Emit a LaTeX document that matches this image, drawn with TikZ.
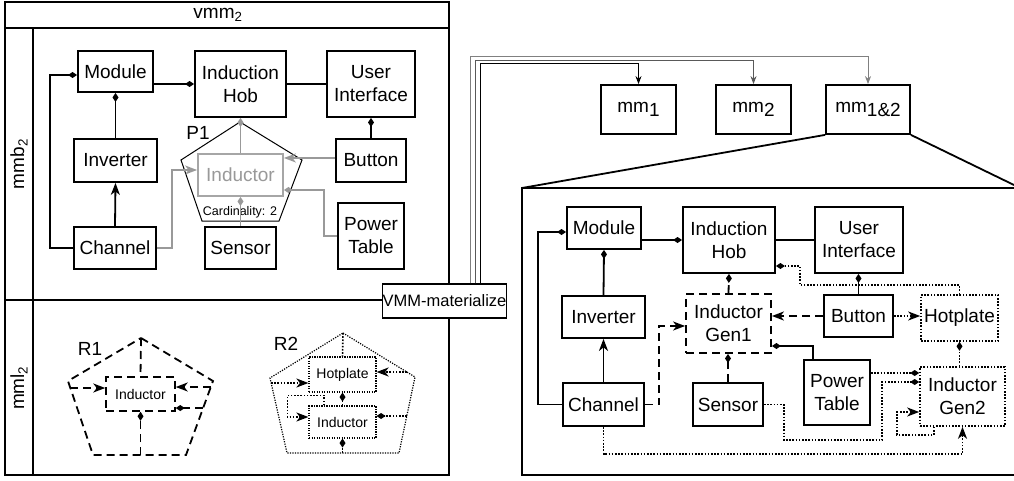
\documentclass[tikz,border=0pt]{standalone}
\usepackage{fontspec}
\setmainfont{Liberation Sans}
\usetikzlibrary{arrows.meta}

\begin{document}
\begin{tikzpicture}[x=1pt, y=-1pt,
    frame/.style={line width=1.8pt},
    box/.style={draw, line width=1.8pt, fill=white, inner sep=0pt, align=center,
      font=\fontsize{19}{23}\selectfont},
    small/.style={draw, line width=1.5pt, fill=white, inner sep=0pt, align=center,
      font=\fontsize{14}{16}\selectfont},
    ghost/.style={box, draw=gray!70, text=gray!80},
    conn/.style={line width=1.8pt},
    gconn/.style={line width=1.8pt, draw=gray!80},
    dashline/.style={dash pattern=on 8pt off 5pt},
    dotline/.style={line width=1.6pt, dash pattern=on 1.6pt off 1.6pt},
    dia/.style={-{Diamond[length=9pt,width=6pt]}},
    arr/.style={-{Stealth[length=12pt,width=9pt,inset=3.5pt]}},
    lab/.style={font=\fontsize{19}{23}\selectfont}]
  \useasboundingbox (0,0) rectangle (1014,481);

  % left panel: vmm2
  \draw [frame] (5,2) rectangle (449,475);
  \draw [frame] (5,28) -- (449,28);
  \draw [frame] (33,28) -- (33,475);
  \draw [frame] (5,300) -- (449,300);
  \node [lab] (tvmm) at (218,15) {vmm\textsubscript{2}};
  \node [lab, rotate=90] (tmmb) at (19,164) {mmb\textsubscript{2}};
  \node [lab, rotate=90] (tmml) at (19,388) {mml\textsubscript{2}};

  % mmb2
  \node [box, minimum width=75, minimum height=41] (lmod) at (115.5,71.5) {Module};
  \node [box, minimum width=91, minimum height=66] (lhob) at (240.5,84) {Induction\\Hob};
  \node [box, minimum width=88, minimum height=66] (lui) at (371,84) {User\\Interface};
  \node [box, minimum width=83, minimum height=43] (linv) at (115.5,160.5) {Inverter};
  \node [box, minimum width=70, minimum height=43] (lbut) at (371,160.5) {Button};
  \node [box, minimum width=82, minimum height=42] (lchan) at (115,248) {Channel};
  \node [box, minimum width=71, minimum height=42] (lsen) at (240.5,248) {Sensor};
  \node [box, minimum width=66, minimum height=66] (lpt) at (371,236) {Power\\Table};
  \node [ghost, minimum width=85, minimum height=42] (lind) at (240.5,175) {Inductor};
  \coordinate (p1t) at (240,122);
  \coordinate (p1r) at (302,160);
  \coordinate (p1br) at (279,221);
  \coordinate (p1bl) at (202,221);
  \coordinate (p1l) at (181,160);
  \draw [line width=1pt] (p1t) -- (p1r) -- (p1br) -- (p1bl) -- (p1l) -- cycle;
  \node [lab] (tp1) at (198,133) {P1};
  \node [font=\fontsize{12.5}{14}\selectfont] (tcard) at (240,212) {Cardinality: 2};

  \draw [conn, dia] (lmod.east |- lhob.west) -- (lhob.west);
  \draw [conn] (lhob.east) -- (lui.west);
  \draw [conn, dia] (lchan.west) -- ++(-23,0) |- ([yshift=-3.5pt]lmod.west);
  \draw [conn, dia] (linv.north) -- (lmod.south);
  \draw [conn, arr] (lchan.north) -- (linv.south);
  \draw [conn, dia] (lbut.north) -- (lbut.north |- lui.south);
  \coordinate (lbutw) at ([yshift=2.5pt]lbut.west);
  \draw [gconn, dia] (lind.north) -- (lhob.south);
  \draw [gconn, dia] (lsen.north) -- (lsen.north |- lind.south);
  \draw [gconn, arr] (lbutw) -- (lind.east |- lbutw);
  \draw [gconn, dia] (lpt.west) -- ++(-13,0) |- ([yshift=-15pt]lind.east);
  \draw [gconn, arr] (lchan.east) -- ++(15,0) |- ([yshift=5pt]lind.west);

  % mml2: R1
  \coordinate (r1t) at (141,338);
  \coordinate (r1r) at (213,381);
  \coordinate (r1br) at (186,455);
  \coordinate (r1bl) at (93,455);
  \coordinate (r1l) at (68,381);
  \draw [conn, dashline] (r1t) -- (r1r) -- (r1br) -- (r1bl) -- (r1l) -- cycle;
  \node [small, dashline, minimum width=69, minimum height=34] (r1ind) at (140.5,394) {Inductor};
  \node [lab] (tr1) at (90,349) {R1};
  \coordinate (r1a) at (70,388);
  \coordinate (r1b) at (211,387);
  \coordinate (r1c) at (203,408);
  \coordinate (r1d) at (140.5,455);
  \draw [conn, dashline] (r1t) -- (r1ind.north);
  \draw [conn, dashline, arr] (r1a) -- (r1ind.west |- r1a);
  \draw [conn, dashline, arr] (r1b) -- (r1ind.east |- r1b);
  \draw [conn, dashline, dia] (r1c) -- (r1ind.east |- r1c);
  \draw [conn, dashline, dia] (r1d) -- (r1ind.south);

  % mml2: R2
  \coordinate (r2t) at (343,333);
  \coordinate (r2r) at (415,377);
  \coordinate (r2br) at (399,453);
  \coordinate (r2bl) at (287,453);
  \coordinate (r2l) at (270,378);
  \draw [dotline, line width=1.2pt, dash pattern=on 1.2pt off 1.3pt] (r2t) -- (r2r) -- (r2br) -- (r2bl) -- (r2l) -- cycle;
  \node [small, dotline, line width=1.2pt, dash pattern=on 1.2pt off 1.3pt, minimum width=67, minimum height=35] (r2hot) at (342.5,374.5) {Hotplate};
  \node [small, dotline, line width=1.2pt, dash pattern=on 1.2pt off 1.3pt, minimum width=67, minimum height=32] (r2ind) at (342.5,422) {Inductor};
  \node [lab] (tr2) at (286,344) {R2};
  \coordinate (r2a) at (271,383);
  \coordinate (r2b) at (407,372);
  \coordinate (r2c) at (407,416);
  \coordinate (r2d) at (342.5,453);
  \draw [dotline] (r2t) -- (r2hot.north);
  \draw [dotline, arr] (r2a) -- (r2hot.west |- r2a);
  \draw [dotline, arr] (r2b) -- (r2hot.east |- r2b);
  \draw [dotline, dia] (r2ind.north) -- (r2hot.south);
  \draw [dotline, arr] ([xshift=-18.5pt]r2ind.north) -- ++(0,-10) -| ([xshift=-21pt,yshift=5pt]r2ind.west) -- ([yshift=5pt]r2ind.west);
  \draw [dotline, dia] (r2c) -- (r2ind.east |- r2c);
  \draw [dotline, dia] (r2d) -- (r2ind.south);

  % materialize
  \node [box, line width=1.3pt, minimum width=123, minimum height=34,
    font=\fontsize{16.5}{20}\selectfont] (vmm) at (444.5,301) {VMM-materialize};
  \node [box, minimum width=75, minimum height=49] (mm1) at (638.5,109.5) {mm\raisebox{-4pt}{1}};
  \node [box, minimum width=75, minimum height=49] (mm2) at (753.5,109.5) {mm\raisebox{-4pt}{2}};
  \node [box, minimum width=84, minimum height=49] (mm12) at (868,109.5) {mm\raisebox{-4pt}{1\&2}};
  \draw [line width=0.9pt, gray, -{Stealth[length=8pt,width=6pt]}] ([xshift=25.5pt]vmm.north) -- ++(0,-227) -| (mm12.north);
  \draw [line width=0.9pt, gray!70!black, -{Stealth[length=8pt,width=6pt]}] ([xshift=30.5pt]vmm.north) -- ++(0,-223) -| (mm2.north);
  \draw [line width=0.9pt, -{Stealth[length=8pt,width=6pt]}] ([xshift=35.5pt]vmm.north) -- ++(0,-220) -| (mm1.north);

  % detail of mm1&2
  \coordinate (dtl) at (522,188);
  \coordinate (dtr) at (1014,188);
  \coordinate (dbl) at (522,475);
  \coordinate (dbr) at (1014,475);
  \coordinate (dcut) at (1014,185);
  \draw [frame] (dtr) -- (dtl) -- (dbl) -- (dbr);
  \draw [frame] (mm12.south west) -- (dtl);
  \draw [frame] (mm12.south east) -- (dcut);

  \node [box, minimum width=74, minimum height=42] (rmod) at (604,228) {Module};
  \node [box, minimum width=92, minimum height=66] (rhob) at (729,240) {Induction\\Hob};
  \node [box, minimum width=88, minimum height=66] (rui) at (859,240) {User\\Interface};
  \node [box, minimum width=83, minimum height=42] (rinv) at (603.5,317) {Inverter};
  \node [box, dashline, minimum width=85, minimum height=59] (rgen1) at (728.5,323.5) {Inductor\\Gen1};
  \node [box, minimum width=69, minimum height=42] (rbut) at (858.5,316) {Button};
  \node [box, dotline, minimum width=77, minimum height=46] (rhot) at (959.5,318) {Hotplate};
  \node [box, minimum width=81, minimum height=43] (rchan) at (603.5,404.5) {Channel};
  \node [box, minimum width=70, minimum height=43] (rsen) at (728,404.5) {Sensor};
  \node [box, minimum width=66, minimum height=65] (rpt) at (837,392.5) {Power\\Table};
  \node [box, dotline, minimum width=85, minimum height=59] (rgen2) at (962.5,396.5) {Inductor\\Gen2};

  \coordinate (rg2a) at ([yshift=23.5pt]rgen2.west);
  \draw [conn, dia] (rmod.east |- rhob.west) -- (rhob.west);
  \draw [conn] (rhob.east) -- (rui.west);
  \draw [conn, dia] (rchan.west) -- ++(-24,0) |- ([yshift=-4pt]rmod.west);
  \draw [conn, dia] (rinv.north) -- (rmod.south);
  \draw [conn, arr] (rchan.north) -- (rinv.south);
  \draw [conn, dashline, dia] (rgen1.north) -- (rhob.south);
  \draw [conn, dashline, arr] (rbut.west) -- (rgen1.east |- rbut.west);
  \draw [conn, dia] (rbut.north) -- (rbut.north |- rui.south);
  \draw [conn, dia] ([xshift=-24pt]rpt.north) |- ([yshift=-22.5pt]rgen1.east);
  \draw [conn, dashline, dia] (rsen.north) -- (rsen.north |- rgen1.south);
  \draw [conn, dashline, arr] (rchan.east) -- ++(14,0) |- ([yshift=-2.5pt]rgen1.west);
  \draw [dotline, arr] (rbut.east) -- (rhot.west |- rbut.east);
  \draw [dotline, dia] (rhot.north) -- ++(0,-9) -| ([xshift=24pt,yshift=-26pt]rhob.east) -- ([yshift=-26pt]rhob.east);
  \draw [dotline, dia] (rhot.south |- rgen2.north) -- (rhot.south);
  \draw [dotline, dia] (rpt.east |- rg2a) -- (rg2a);
  \draw [dotline, dia] (rsen.east) -- ++(20,0) -- ++(0,35.5) -| ([xshift=-37pt,yshift=14.5pt]rgen2.west) -- ([yshift=14.5pt]rgen2.west);
  \draw [dotline, arr] ([xshift=-28.5pt]rgen2.south) -- ++(0,8) -| ([xshift=-22pt,yshift=-15.5pt]rgen2.west) -- ([yshift=-15.5pt]rgen2.west);
  \draw [dotline, arr] (rchan.south) -- ++(0,27) -| (rgen2.south);
\end{tikzpicture}
\end{document}
